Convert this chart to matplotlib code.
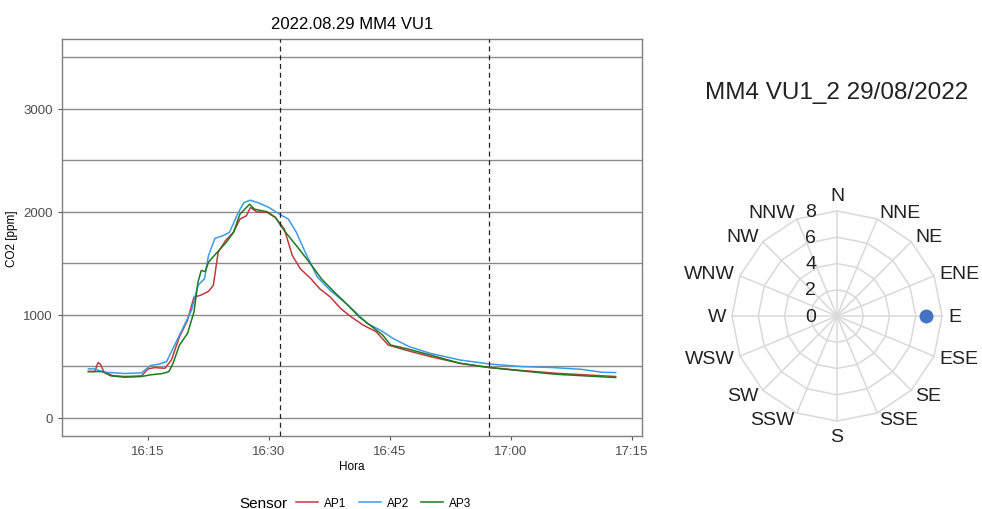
import numpy as np
import pandas as pd
import matplotlib
matplotlib.use("Agg")
import matplotlib.pyplot as plt
import matplotlib.dates as mdates

plt.rcParams['font.family'] = ['Liberation Sans', 'DejaVu Sans']

# ---------------- data ----------------
base = pd.Timestamp("2022-08-29 16:00:00")

ap1_min = [7.6, 8.4, 8.8, 9.1, 9.5, 10.6, 12.1, 14.2, 15.0, 15.8, 17.1, 17.9, 18.9, 19.9,
           20.7, 21.5, 22.5, 23.1, 23.7, 24.6, 25.6, 26.4, 27.2, 27.7, 28.5, 29.8, 30.8,
           31.9, 32.9, 33.9, 35.2, 36.3, 37.6, 38.9, 40.2, 41.7, 43.3, 44.8, 46.9, 50.0,
           53.7, 57.3, 61.4, 65.5, 69.2, 73.0]
ap1_ppm = [450, 450, 537, 520, 450, 411, 402, 408, 476, 488, 482, 562, 787, 948,
           1173, 1189, 1228, 1286, 1607, 1719, 1800, 1928, 1961, 2041, 1999, 1993, 1944,
           1832, 1575, 1446, 1350, 1253, 1173, 1061, 980, 900, 836, 707, 659, 595,
           530, 489, 460, 434, 418, 402]

ap2_min = [7.6, 8.5, 9.0, 9.8, 12.1, 14.2, 15.3, 16.3, 17.3, 18.4, 19.4, 20.4, 21.2,
           22.0, 22.5, 23.3, 24.3, 25.1, 26.2, 26.9, 27.7, 28.8, 30.0, 31.3, 32.4, 33.4,
           34.5, 36.0, 37.6, 39.1, 40.7, 42.2, 43.8, 45.4, 47.4, 50.0, 53.7, 57.3, 61.4,
           65.1, 68.7, 71.3, 73.0]
ap2_ppm = [476, 476, 456, 443, 431, 437, 508, 521, 546, 723, 884, 1045, 1286,
           1350, 1575, 1742, 1768, 1800, 1993, 2089, 2112, 2083, 2041, 1977, 1928, 1800,
           1607, 1366, 1237, 1141, 1028, 916, 852, 771, 691, 627, 562, 524, 498,
           489, 472, 443, 440]

ap3_min = [7.6, 9.3, 10.4, 12.1, 14.2, 15.3, 16.8, 17.6, 18.1, 18.9, 19.9, 20.7, 21.2,
           21.6, 22.1, 22.5, 23.4, 24.7, 25.6, 26.4, 27.2, 27.6, 28.2, 29.8, 30.8, 31.9,
           33.4, 35.0, 36.5, 38.1, 39.6, 41.2, 42.8, 44.1, 45.1, 46.9, 50.0, 53.7, 57.3,
           61.4, 65.5, 69.2, 73.0]
ap3_ppm = [450, 450, 408, 395, 402, 418, 431, 450, 530, 707, 820, 1028, 1318,
           1430, 1420, 1511, 1591, 1703, 1800, 1977, 2041, 2073, 2025, 1999, 1944, 1816,
           1671, 1511, 1350, 1221, 1109, 980, 884, 804, 707, 675, 611, 530, 489,
           456, 424, 408, 392]

sensors = ["AP1", "AP2", "AP3"]
sensor_colors = ["#C0393F", "#3C9BE6", "#1E7A1E"]
vlines_min = [31.4, 57.3]

directions = ["N", "NNE", "NE", "ENE", "E", "ESE", "SE", "SSE",
              "S", "SSW", "SW", "WSW", "W", "WNW", "NW", "NNW"]
radial_ticks = [0, 2, 4, 6, 8]
wind_dir = ["E"]
wind_speed = [6.8]

# ---------------- figure ----------------
fig = plt.figure(figsize=(9.82, 5.10), dpi=100)

ax = fig.add_axes([62/982, 73/510, 580/982, 397/510])
series = [(ap1_min, ap1_ppm), (ap2_min, ap2_ppm), (ap3_min, ap3_ppm)]
handles = []
for (mins, ppm), name, col in zip(series, sensors, sensor_colors):
    t = base + pd.to_timedelta(mins, unit="m")
    h, = ax.plot(t, ppm, color=col, lw=1.1, label=name, zorder=3)
    handles.append(h)

for vm in vlines_min:
    ax.axvline(base + pd.Timedelta(minutes=vm), color="#222222", lw=0.9,
               ls=(0, (4, 3)), zorder=4)

t0 = base + pd.Timedelta(minutes=7.6)
t1 = base + pd.Timedelta(minutes=73.0)
span = t1 - t0
ax.set_xlim(t0 - span * 0.05, t1 + span * 0.05)
ax.set_ylim(-175, 3675)
ax.set_yticks([0, 1000, 2000, 3000])
ax.set_yticks([500, 1500, 2500, 3500], minor=True)
ax.xaxis.set_major_locator(mdates.MinuteLocator(byminute=[0, 15, 30, 45]))
ax.xaxis.set_major_formatter(mdates.DateFormatter("%H:%M"))
ax.grid(axis="y", which="both", color="#8a8a8a", lw=1.0, zorder=1)
ax.tick_params(axis="both", which="major", labelsize=9.5, colors="#555555",
               labelcolor="#4d4d4d", length=3, width=0.8)
ax.tick_params(axis="y", which="minor", length=0)
for s in ax.spines.values():
    s.set_color("#7f7f7f")
    s.set_linewidth(1.0)
ax.set_title("2022.08.29 MM4 VU1", fontsize=12, pad=8)
ax.set_xlabel("Hora", fontsize=8.5, labelpad=2)
ax.set_ylabel("CO2 [ppm]", fontsize=8.5, labelpad=4)

fig.text(263/982, 1 - 504/510, "Sensor", fontsize=11, ha="center", va="center")
fig.legend(handles=handles, labels=sensors, loc="center left",
           bbox_to_anchor=(296/982, 1 - 504/510), ncol=3, frameon=False,
           fontsize=8.5, handlelength=1.9, handletextpad=0.5, columnspacing=1.0,
           borderaxespad=0, borderpad=0)

# ---------------- wind rose ----------------
cx, cy, R = 837, 317, 105
pax = fig.add_axes([(cx - R)/982, (510 - cy - R)/510, 2*R/982, 2*R/510],
                   projection="polar")
pax.set_theta_zero_location("N")
pax.set_theta_direction(-1)
pax.set_ylim(0, 8)
pax.set_axis_off()

angles = np.deg2rad(np.arange(len(directions)) * 22.5)
closed = np.append(angles, angles[0])
gcol = "#d9d9d9"
for r in radial_ticks[1:]:
    pax.plot(closed, [r] * len(closed), color=gcol, lw=1.1, clip_on=False, zorder=1)
for a in angles:
    pax.plot([a, a], [0, 8], color=gcol, lw=1.1, clip_on=False, zorder=1)

for a, lab in zip(angles, directions):
    s, c = np.sin(a), np.cos(a)
    ha = "left" if s > 0.05 else ("right" if s < -0.05 else "center")
    va = "bottom" if c > 0.95 else ("top" if c < -0.95 else "center")
    pax.annotate(lab, xy=(a, 8), xytext=(s * 6, c * 7), textcoords="offset pixels",
                 ha=ha, va=va, fontsize=14, color="#222222", annotation_clip=False)

for r in radial_ticks:
    pax.annotate(str(r), xy=(0, r), xytext=(-21, 0), textcoords="offset pixels",
                 ha="right", va="center", fontsize=14, color="#222222",
                 annotation_clip=False)

wind_theta = [angles[directions.index(d)] for d in wind_dir]
pax.plot(wind_theta, wind_speed, "o", color="#4472C4", ms=9, clip_on=False, zorder=5)

fig.text(837/982, 1 - 93/510, "MM4 VU1_2 29/08/2022", fontsize=17.5,
         ha="center", va="center", color="#222222")

fig.savefig("out.png", dpi=100)
